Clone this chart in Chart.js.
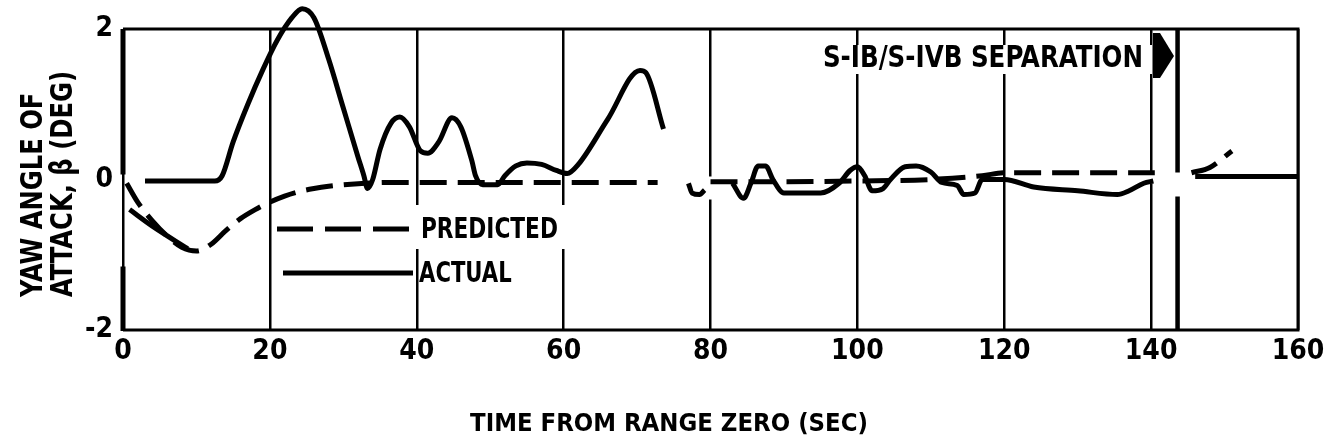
<!DOCTYPE html>
<html lang="en">
<head>
  <meta charset="UTF-8" />
  <title>Yaw Angle of Attack</title>
  <script src="https://cdn.jsdelivr.net/npm/chart.js"></script>
  <style>
    body { margin: 0; background: #fff; }
    #chart { display: block; }
  </style>
</head>
<body>
  <canvas id="chart" width="1324" height="445"></canvas>

  <script>
    // time (sec) and yaw angle (deg); null breaks the trace
    const predictedTime = [0.5, 2, 4, 6, 8, 10, 12, 14, 16, 18, 20, 22, 24, 26, 28, 30, 33, 36, 40, 50, 60, 72.8,
      null, 80, 90, 100, 110, 117, 120, 130, 140.5, null, 145.5, 148, 151];
    const predictedValue = [-0.05, -0.3, -0.55, -0.75, -0.9, -0.95, -0.86, -0.68, -0.52, -0.4, -0.3, -0.22, -0.16, -0.12, -0.09, -0.07, -0.05, -0.04, -0.04, -0.04, -0.04, -0.04,
      null, -0.03, -0.03, -0.02, 0.0, 0.05, 0.09, 0.09, 0.09, null, 0.09, 0.16, 0.38];

    const actualTime = [0.9, 4, 8.8, null,
      3, 12.5, 13.5, 15, 17, 19, 21, 23, 24.4, 26, 28, 30, 32, 32.8, 33.3, 34, 35, 36.5, 37.7, 39, 40.5, 41.5, 43, 44.8, 46, 47.5,
      48, 49, 51, 52, 53.5, 55, 57, 59, 60.5, 62, 66, 70.4, 71.2, 73.6, null,
      77, 77.5, 78.5, 79.2, null,
      83, 84.5, 85.5, 86.5, 87.5, 88.5, 90, 95, 97.5, 99, 100, 101, 102, 103.5, 104.5, 106.5, 108, 110, 111.5, 113.6, 114.5, 116, 117, 118.5,
      120, 124, 130, 135.4, 137, 139, 140.3, null, 146, 160];
    const actualValue = [-0.4, -0.62, -0.92, null,
      -0.02, -0.02, 0.05, 0.5, 1.0, 1.45, 1.85, 2.15, 2.27, 2.15, 1.6, 0.95, 0.3, 0.05, -0.12, 0.0, 0.4, 0.75, 0.83, 0.7, 0.38, 0.35, 0.5, 0.82, 0.7, 0.25,
      0.05, -0.07, -0.07, 0.05, 0.18, 0.22, 0.2, 0.12, 0.08, 0.2, 0.8, 1.45, 1.42, 0.67, null,
      -0.05, -0.18, -0.2, -0.14, null,
      -0.05, -0.25, -0.05, 0.18, 0.18, 0.0, -0.18, -0.18, -0.05, 0.12, 0.17, 0.05, -0.15, -0.12, 0.0, 0.17, 0.18, 0.1, -0.04, -0.08, -0.2, -0.18, 0.0, 0.0,
      0.0, -0.1, -0.15, -0.2, -0.15, -0.05, -0.02, null, 0.04, 0.04];

    const xTicks = [0, 20, 40, 60, 80, 100, 120, 140, 160];
    const yTicks = [-2, 0, 2];
    const separationTime = 143.6;

    const FONT = "'DejaVu Sans Condensed', 'DejaVu Sans', sans-serif";

    // nulls in either array become gaps
    function toData(xs, ys) {
      const out = [];
      xs.forEach((t, i) => {
        if (t === null || ys[i] === null) {
          const prev = out.length ? out[out.length - 1].x : 0;
          out.push({ x: prev, y: null });
        } else {
          out.push({ x: t, y: ys[i] });
        }
      });
      return out;
    }

    // squeezed text, the lettering on the sheet is narrower than the font
    function narrowText(ctx, txt, x, y, sx, align) {
      const w = ctx.measureText(txt).width * sx;
      let left = x;
      if (align === 'center') left = x - w / 2;
      if (align === 'right') left = x - w;
      ctx.save();
      ctx.translate(left, y);
      ctx.scale(sx, 1);
      ctx.textAlign = 'left';
      ctx.fillText(txt, 0, 0);
      ctx.restore();
    }

    // white-outs, separation line and the frame go under the traces
    const frame = {
      id: 'frame',
      beforeDatasetsDraw(chart) {
        const { ctx, chartArea: a, scales: { x, y } } = chart;
        const y0 = y.getPixelForValue(0);
        ctx.save();
        ctx.fillStyle = '#fff';
        ctx.fillRect(814, 45, 338, 29);      // behind separation label
        ctx.fillRect(416, 205, 158, 44);     // behind legend text
        ctx.fillRect(x.getPixelForValue(80) - 3, y0 - 3, 6, 23);
        ctx.fillRect(x.getPixelForValue(140) - 3, y0 - 6, 6, 10);

        const sx = x.getPixelForValue(separationTime);
        ctx.strokeStyle = '#000';
        ctx.lineWidth = 4.5;
        ctx.beginPath();
        ctx.moveTo(sx, a.top);
        ctx.lineTo(sx, y0 - 7);
        ctx.moveTo(sx, y0 + 17);
        ctx.lineTo(sx, a.bottom);
        ctx.stroke();

        ctx.lineWidth = 3;
        ctx.beginPath();
        ctx.moveTo(a.left, a.top);
        ctx.lineTo(a.right, a.top);
        ctx.lineTo(a.right, a.bottom);
        ctx.lineTo(a.left, a.bottom);
        ctx.stroke();

        ctx.lineWidth = 5;
        ctx.beginPath();
        ctx.moveTo(a.left, a.top);
        ctx.lineTo(a.left, y0 - 5);
        ctx.moveTo(a.left, y0 + 87);
        ctx.lineTo(a.left, a.bottom + 1);
        ctx.stroke();
        ctx.restore();
      },
      afterDraw(chart) {
        const { ctx } = chart;
        const [pred, act] = chart.data.datasets;
        ctx.save();
        ctx.fillStyle = '#000';
        ctx.strokeStyle = '#000';
        ctx.textBaseline = 'alphabetic';

        // legend
        ctx.lineWidth = 5;
        ctx.setLineDash([36, 12]);
        ctx.beginPath();
        ctx.moveTo(277, 229);
        ctx.lineTo(413, 229);
        ctx.stroke();
        ctx.setLineDash([]);
        ctx.beginPath();
        ctx.moveTo(283, 273);
        ctx.lineTo(413, 273);
        ctx.stroke();
        ctx.font = 'bold 28px ' + FONT;
        narrowText(ctx, pred.label, 421, 238, 0.86, 'left');
        narrowText(ctx, act.label, 419, 282, 0.84, 'left');

        // separation marker
        ctx.font = 'bold 30px ' + FONT;
        narrowText(ctx, 'S-IB/S-IVB SEPARATION', 1143, 67, 0.91, 'right');
        ctx.beginPath();
        ctx.moveTo(1153, 33);
        ctx.lineTo(1160, 33);
        ctx.lineTo(1174, 56);
        ctx.lineTo(1160, 78);
        ctx.lineTo(1153, 78);
        ctx.closePath();
        ctx.fill();

        // axis titles
        ctx.font = 'bold 24px ' + FONT;
        narrowText(ctx, 'TIME FROM RANGE ZERO (SEC)', 669, 431, 1.06, 'center');

        ctx.font = 'bold 31px ' + FONT;
        [['YAW ANGLE OF', 42], ['ATTACK, \u03b2 (DEG)', 72]].forEach(([txt, bx]) => {
          ctx.save();
          ctx.translate(bx, 297);
          ctx.rotate(-Math.PI / 2);
          narrowText(ctx, txt, 0, 0, 0.87, 'left');
          ctx.restore();
        });
        ctx.restore();
      }
    };

    new Chart(document.getElementById('chart'), {
      type: 'scatter',
      data: {
        datasets: [
          {
            label: 'PREDICTED',
            data: toData(predictedTime, predictedValue),
            showLine: true,
            spanGaps: false,
            borderColor: '#000',
            borderWidth: 5,
            borderDash: [27, 11],
            pointRadius: 0,
            cubicInterpolationMode: 'monotone',
            clip: false
          },
          {
            label: 'ACTUAL',
            data: toData(actualTime, actualValue),
            showLine: true,
            spanGaps: false,
            borderColor: '#000',
            borderWidth: 5,
            pointRadius: 0,
            cubicInterpolationMode: 'monotone',
            clip: false
          }
        ]
      },
      options: {
        responsive: false,
        animation: false,
        layout: { padding: { left: 0, right: 26, top: 29, bottom: 75 } },
        plugins: { legend: { display: false }, tooltip: { enabled: false } },
        scales: {
          x: {
            type: 'linear',
            min: 0,
            max: 160,
            afterBuildTicks: s => { s.ticks = xTicks.map(v => ({ value: v })); },
            afterFit: s => { s.height = 40; s.paddingLeft = 0; s.paddingRight = 0; },
            border: { display: false },
            grid: { color: '#000', lineWidth: 2.5, drawTicks: false },
            ticks: {
              color: '#000',
              padding: 5,
              maxRotation: 0,
              font: { family: FONT, size: 28, weight: 'bold' }
            }
          },
          y: {
            min: -2,
            max: 2,
            afterBuildTicks: s => { s.ticks = yTicks.map(v => ({ value: v })); },
            afterFit: s => { s.width = 123; },
            border: { display: false },
            grid: { display: false, drawTicks: false },
            ticks: {
              color: '#000',
              padding: 10,
              font: { family: FONT, size: 28, weight: 'bold' }
            }
          }
        }
      },
      plugins: [frame]
    });
  </script>
</body>
</html>
